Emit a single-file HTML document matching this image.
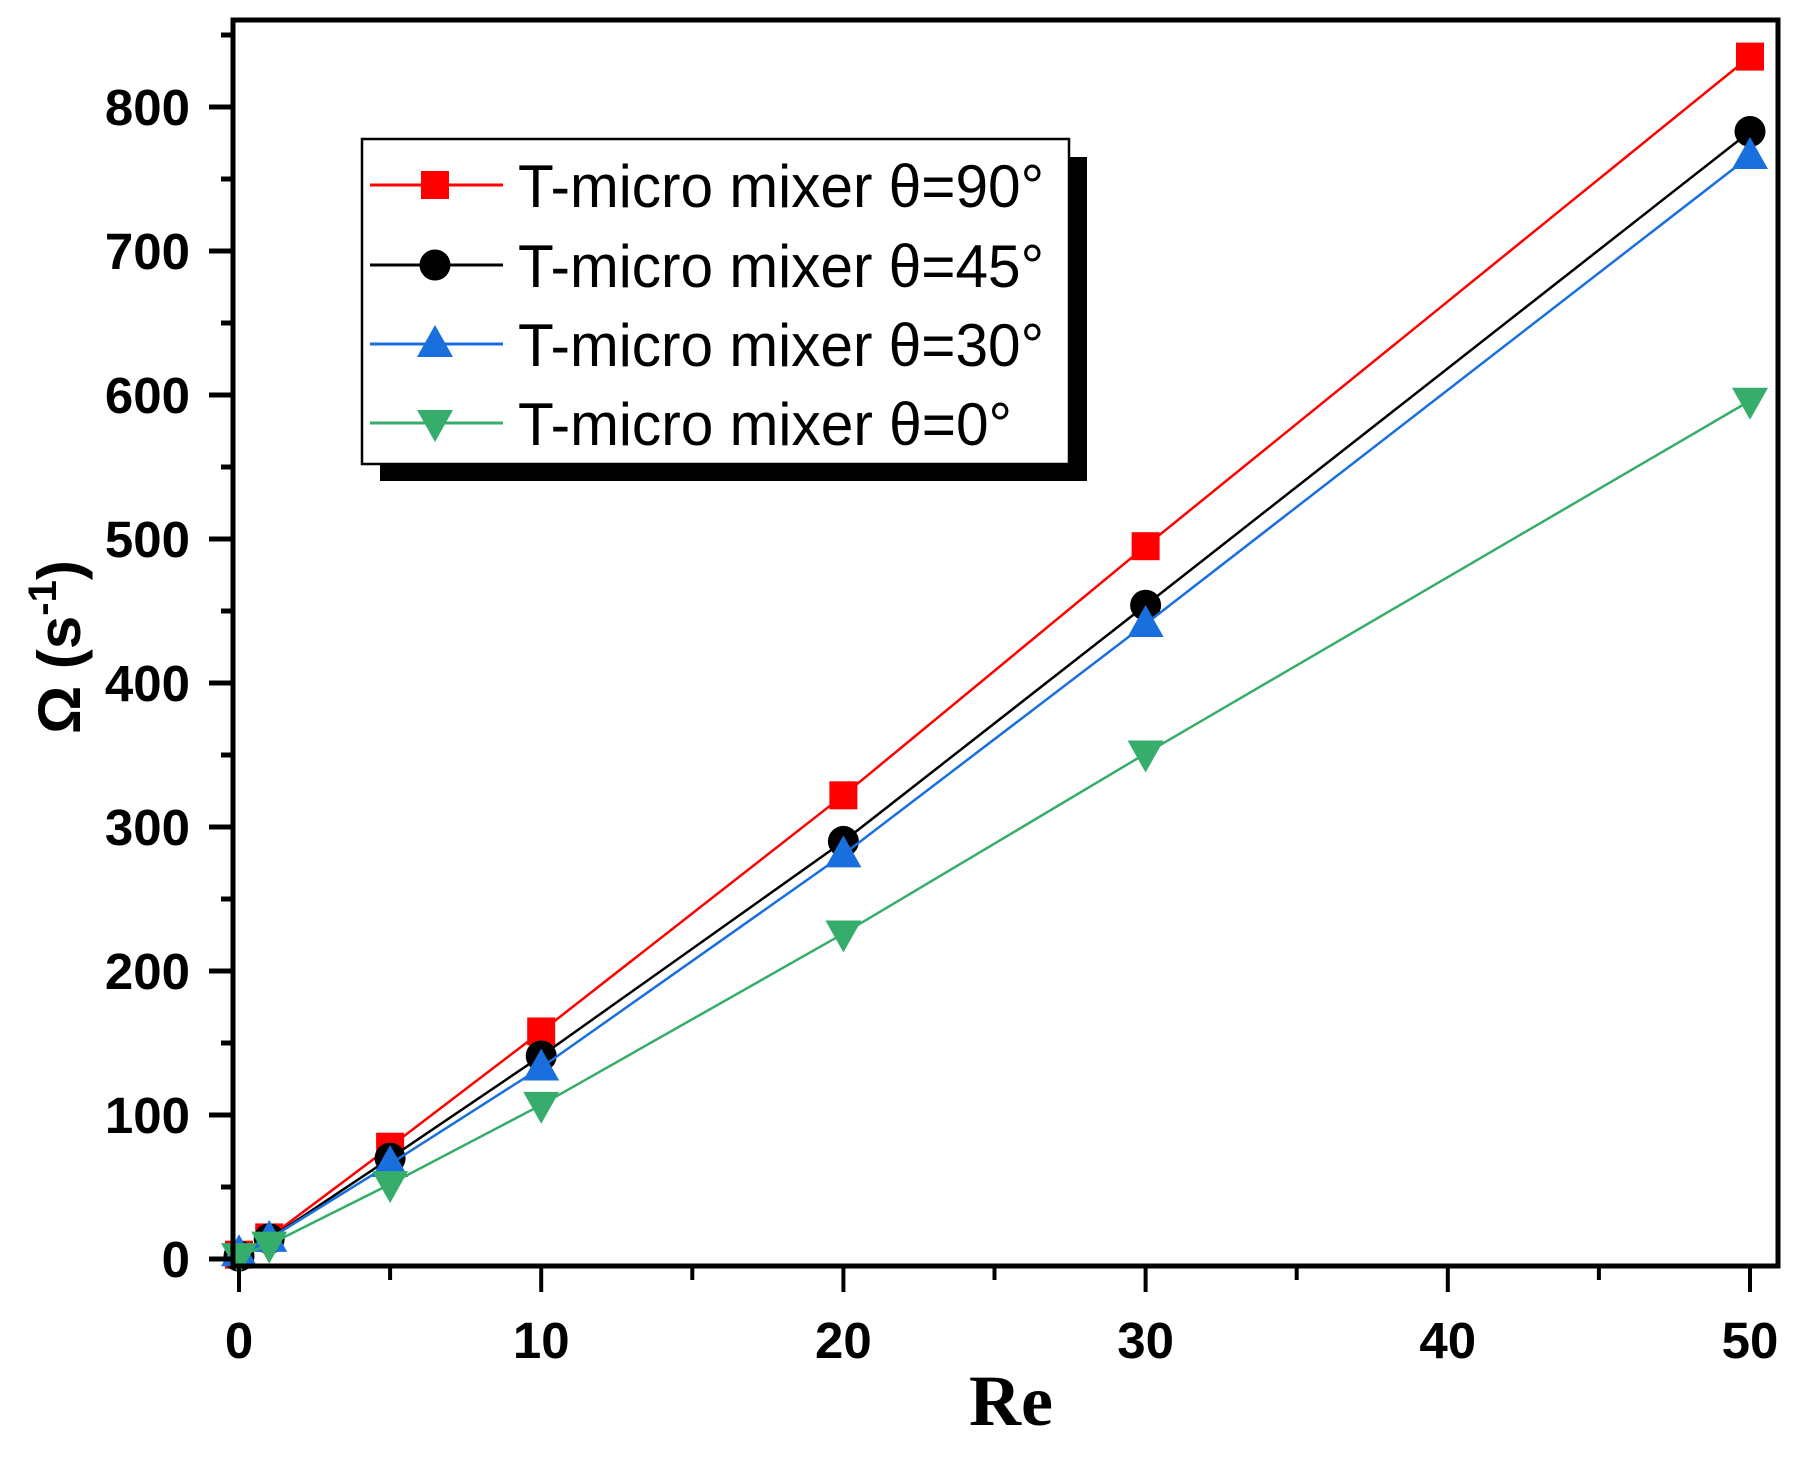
<!DOCTYPE html>
<html><head><meta charset="utf-8"><style>
html,body{margin:0;padding:0;background:#fff;}
svg{display:block;font-family:"Liberation Sans",Arial,sans-serif;}
</style></head><body>
<svg id="chart" width="1803" height="1476" viewBox="0 0 1803 1476" xmlns="http://www.w3.org/2000/svg">
<g id="plot"></g>
<g id="axes"></g>
<g id="legend"></g>
<text x="1011" y="1425" text-anchor="middle" font-family="'Liberation Serif',serif" font-weight="bold" font-size="72">Re</text>
<text transform="translate(80,647) rotate(-90)" text-anchor="middle" font-weight="bold" font-size="60">Ω (s<tspan dy="-24" font-size="40">-1</tspan><tspan dy="24">)</tspan></text>
</svg>
<script>
const xValues = [0, 1, 5, 10, 20, 30, 50];
const red90 = [3, 15, 78, 158, 322, 495, 835];
const black45 = [2, 14, 70, 141, 290, 454, 783];
const blue30 = [4, 14, 66, 133, 281, 441, 766];
const green0 = [2, 10, 52, 107, 226, 351, 596];
const seriesLabels = ["T-micro mixer θ=90°", "T-micro mixer θ=45°", "T-micro mixer θ=30°", "T-micro mixer θ=0°"];
const xTicks = [0, 10, 20, 30, 40, 50];
const yTicks = [0, 100, 200, 300, 400, 500, 600, 700, 800];

const NS = "http://www.w3.org/2000/svg";
const X0 = 239, X1 = 1750, Y0 = 1259, Y1 = 107;
function sx(v){ return X0 + (X1 - X0) * v / 50; }
function sy(v){ return Y0 - (Y0 - Y1) * v / 800; }
function mk(tag, attrs, parent){
  const e = document.createElementNS(NS, tag);
  for (const k in attrs) e.setAttribute(k, attrs[k]);
  parent.appendChild(e);
  return e;
}
const plot = document.getElementById('plot');
const axes = document.getElementById('axes');
const legend = document.getElementById('legend');

const series = [
  {vals: red90, color: "#ff0000", shape: "square", name: "series-theta-90"},
  {vals: black45, color: "#000000", shape: "circle", name: "series-theta-45"},
  {vals: blue30, color: "#1a6fdf", shape: "up", name: "series-theta-30"},
  {vals: green0, color: "#37ad6b", shape: "down", name: "series-theta-0"}
];
function marker(shape, cx, cy, color, parent){
  let e;
  if (shape === "square") e = mk('rect', {x: cx-14, y: cy-14, width: 28, height: 28, fill: color}, parent);
  else if (shape === "circle") e = mk('circle', {cx: cx, cy: cy, r: 15.5, fill: color}, parent);
  else if (shape === "up") e = mk('polygon', {points: `${cx},${cy-19} ${cx-18},${cy+13} ${cx+18},${cy+13}`, fill: color}, parent);
  else e = mk('polygon', {points: `${cx},${cy+19} ${cx-18},${cy-13} ${cx+18},${cy-13}`, fill: color}, parent);
  return e;
}
series.forEach(s => {
  const g = mk('g', {}, plot);
  
  
  const pts = xValues.map((x, i) => sx(x) + "," + sy(s.vals[i])).join(" ");
  const pl = mk('polyline', {points: pts, fill: "none", stroke: s.color, "stroke-width": 2.5}, g);
  
  
  xValues.forEach((x, i) => {
    const m = marker(s.shape, sx(x), sy(s.vals[i]), s.color, g);
    
    
  });
});

const frame = mk('rect', {x: 233, y: 20, width: 1545, height: 1246, fill: "none", stroke: "#000", "stroke-width": 5}, axes);


for (let v = 0; v <= 50; v += 5) {
  const major = v % 10 === 0;
  const t = mk('line', {x1: sx(v), x2: sx(v), y1: 1268, y2: major ? 1292 : 1280, stroke: "#000", "stroke-width": 4}, axes);
  
  
}
xTicks.forEach(v => {
  const t = mk('text', {x: sx(v), y: 1358, "text-anchor": "middle", "font-weight": "bold", "font-size": 51}, axes);
  t.textContent = v;
  
  
});
for (let v = 0; v <= 850; v += 50) {
  const major = v % 100 === 0;
  const t = mk('line', {x1: major ? 209 : 221, x2: 231, y1: sy(v), y2: sy(v), stroke: "#000", "stroke-width": 5}, axes);
  
  
}
yTicks.forEach(v => {
  const t = mk('text', {x: 190, y: sy(v) + 18, "text-anchor": "end", "font-weight": "bold", "font-size": 51}, axes);
  t.textContent = v;
  
  
});

const sh = mk('rect', {x: 380, y: 157, width: 707, height: 324, fill: "#000"}, legend);


const box = mk('rect', {x: 362, y: 139, width: 707, height: 325, fill: "#fff", stroke: "#000", "stroke-width": 2.5}, legend);


const rowY = [185, 265, 344, 423];
series.forEach((s, i) => {
  const g = mk('g', {}, legend);
  
  
  mk('line', {x1: 370, x2: 503, y1: rowY[i], y2: rowY[i], stroke: s.color, "stroke-width": 3}, g);
  marker(s.shape, 435, rowY[i], s.color, g);
  const t = mk('text', {x: 518, y: rowY[i] + 22, "font-size": 60, textLength: i === 3 ? 494 : 526, lengthAdjust: "spacingAndGlyphs"}, g);
  t.textContent = seriesLabels[i];
  
  
});
</script>
</body></html>
